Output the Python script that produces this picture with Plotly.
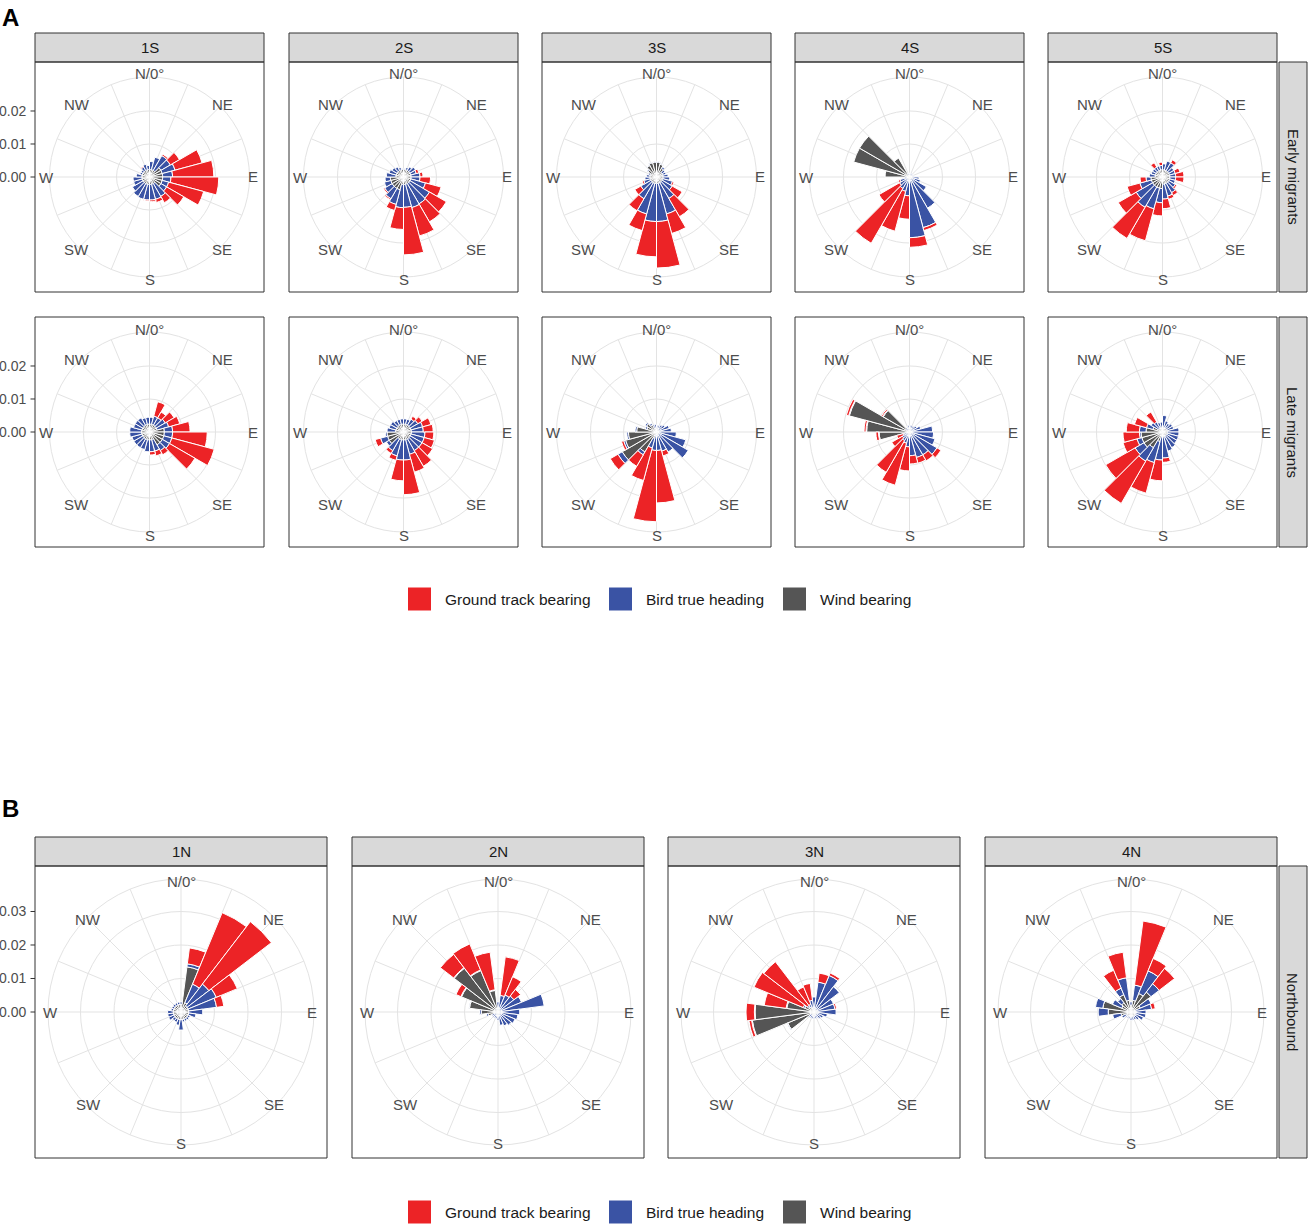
import plotly.graph_objects as go
import math

W, H = 1308, 1227

# ---------------- data (density per degree, values in units of 0.001) ----------------
THETA_A = [7.5, 22.5, 37.5, 52.5, 67.5, 82.5, 97.5, 112.5, 127.5, 142.5, 157.5, 172.5,
           187.5, 202.5, 217.5, 232.5, 247.5, 262.5, 277.5, 292.5, 307.5, 322.5, 337.5, 352.5]
THETA_B = [0, 15, 30, 45, 60, 75, 90, 105, 120, 135, 150, 165,
           180, 195, 210, 225, 240, 255, 270, 285, 300, 315, 330, 345]
BIN_WIDTH = 15
COMPASS_DEG = [0, 45, 90, 135, 180, 225, 270, 315]
COMPASS_TXT = ["N/0°", "NE", "E", "SE", "S", "SW", "W", "NW"]
SPOKES = [0, 22.5, 45, 67.5, 90, 112.5, 135, 157.5, 180, 202.5, 225, 247.5,
          270, 292.5, 315, 337.5]
SERIES = ["Ground track bearing", "Bird true heading", "Wind bearing"]
TICKS_A = [0.00, 0.01, 0.02]
TICKS_B = [0.00, 0.01, 0.02, 0.03]
COLS_A = ["1S", "2S", "3S", "4S", "5S"]
ROWS_A = ["Early migrants", "Late migrants"]
COLS_B = ["1N", "2N", "3N", "4N"]
ROW_B = "Northbound"

# Early migrants
W1S_E = [2.3, 2.3, 2.3, 4.0, 4.0, 4.0, 4.0, 4.0, 4.0, 2.3, 2.3, 2.3, 2.3, 2.3, 2.3, 2.3, 2.3, 2.3, 2.3, 2.3, 2.3, 2.3, 2.3, 2.3]
H1S_E = [2.4, 3.9, 5.2, 3.3, 4.0, 3.0, 2.5, 2.0, 2.0, 4.5, 4.7, 4.7, 4.7, 4.7, 4.5, 3.7, 2.7, 2.7, 1.7, 0.7, 0.7, 1.2, 1.7, 1.2]
G1S_E = [0, 0, 0.5, 3.2, 8.5, 12.5, 14.5, 11.0, 6.0, 2.2, 1.0, 0.5, 0.3, 0, 0, 0, 0, 0, 0, 0, 0, 0.3, 0, 0]

W2S_E = [2.3, 2.3, 2.3, 2.3, 2.3, 2.3, 2.3, 2.3, 2.3, 2.3, 2.3, 2.3, 2.3, 4.0, 4.0, 4.0, 4.0, 4.0, 2.3, 2.3, 2.3, 2.3, 2.3, 2.3]
H2S_E = [0.2, 0.7, 1.2, 1.9, 1.7, 2.7, 2.7, 4.6, 6.8, 7.1, 7.3, 6.9, 7.0, 4.6, 3.6, 2.6, 2.0, 1.6, 2.9, 2.2, 1.7, 1.2, 0.7, 0.2]
G2S_E = [0, 0, 0, 0, 0.8, 0.9, 3.2, 4.9, 5.9, 6.3, 8.9, 14.4, 6.6, 1.9, 0.4, 0.4, 0, 0, 0, 0, 0, 0, 0, 0]

W3S_E = [4.5, 4.0, 3.0, 2.0, 2.0, 2.0, 2.0, 2.0, 2.0, 2.0, 2.0, 2.0, 2.0, 2.0, 2.0, 2.0, 2.0, 2.0, 2.0, 2.0, 3.0, 4.0, 4.5, 4.5]
H3S_E = [0.2, 0.2, 0.5, 1.0, 1.0, 1.5, 2.0, 3.0, 3.5, 5.5, 9.6, 11.5, 11.5, 9.6, 5.6, 3.5, 2.0, 1.5, 1.0, 0.5, 0.3, 0.2, 0.2, 0.2]
G3S_E = [0, 0, 0, 0, 0, 0, 0, 0.5, 3.5, 6.4, 6.1, 14.1, 10.7, 5.2, 4.2, 2.1, 0.5, 0, 0, 0, 0, 0, 0, 0]

W4S_E = [0.9, 0.9, 0.9, 0.9, 0.9, 0.9, 0.9, 0.9, 0.9, 0.9, 0.9, 0.9, 0.9, 0.9, 0.9, 0.9, 0.9, 0.9, 7.4, 17.5, 17.5, 6.6, 0.9, 0.9]
H4S_E = [0.3, 0.3, 0.3, 0.3, 0.3, 0.5, 2.0, 2.5, 5.0, 10.0, 15.0, 17.5, 4.8, 3.6, 3.1, 2.6, 2.1, 0.5, 0, 0, 0, 0, 0.3, 0.3]
G4S_E = [0, 0, 0, 0, 0, 0, 0, 0, 0, 0, 0.9, 2.9, 7.1, 12.5, 19.2, 7.2, 0.5, 0, 0, 0, 0, 0, 0, 0]

W5S_E = [2.2, 2.2, 2.2, 2.2, 2.2, 2.2, 2.2, 2.2, 2.2, 2.2, 2.2, 2.2, 3.5, 3.5, 3.5, 3.5, 3.5, 3.5, 2.2, 2.2, 2.2, 2.2, 2.2, 2.2]
H5S_E = [1.8, 2.8, 2.8, 1.8, 1.8, 1.8, 1.8, 1.8, 2.3, 3.3, 3.8, 4.5, 4.3, 6.5, 7.1, 5.7, 3.6, 1.5, 1.8, 1.3, 1.3, 1.3, 1.3, 1.3]
G5S_E = [0, 0, 1.0, 0, 1.5, 2.5, 2.5, 0, 0.5, 1.0, 1.0, 2.9, 4.0, 10.0, 10.9, 6.3, 4.0, 1.8, 0, 0, 0, 1.5, 0, 1.0]

# Late migrants
W1S_L = [2.4, 2.4, 2.4, 2.4, 2.4, 4.5, 4.5, 4.5, 4.5, 4.5, 2.4, 2.4, 2.4, 2.4, 2.4, 2.4, 2.4, 2.4, 2.4, 2.4, 2.4, 2.4, 2.4, 2.4]
H1S_L = [2.1, 2.6, 2.6, 3.1, 3.6, 2.5, 2.5, 2.5, 2.5, 2.0, 3.6, 3.6, 3.6, 3.1, 3.1, 3.1, 3.1, 3.6, 3.6, 2.6, 2.6, 2.6, 2.1, 2.1]
G1S_L = [0, 4.5, 2.0, 3.1, 3.5, 5.3, 10.5, 13.3, 8.9, 1.5, 1.5, 1.0, 0, 0, 0, 0, 0, 0, 0, 0, 0, 0, 0, 0]

W2S_L = [2.4, 2.4, 2.4, 2.4, 2.4, 2.4, 2.4, 2.4, 2.4, 2.4, 2.4, 2.4, 2.4, 2.4, 2.4, 5.0, 5.0, 5.0, 2.4, 2.4, 2.4, 2.4, 2.4, 2.4]
H2S_L = [1.6, 1.6, 2.1, 2.6, 3.6, 3.6, 4.1, 4.1, 4.1, 4.1, 4.6, 6.1, 6.1, 5.1, 4.1, 1.0, 2.2, 0.5, 2.6, 2.1, 2.1, 1.6, 1.6, 1.6]
G2S_L = [0, 0, 1.0, 1.5, 2.6, 3.0, 2.7, 3.2, 3.7, 5.5, 5.6, 10.5, 6.3, 1.4, 1.0, 0, 1.7, 0, 0, 0, 0, 0, 0, 0]

W3S_L = [1.0, 1.0, 1.0, 1.0, 1.0, 1.0, 1.0, 1.0, 1.0, 1.0, 1.0, 1.0, 1.0, 2.0, 7.0, 12.0, 9.7, 8.5, 6.0, 3.0, 3.5, 2.5, 1.3, 1.3]
H3S_L = [1.0, 1.0, 1.5, 2.0, 3.0, 3.5, 5.0, 8.2, 10.1, 6.0, 5.0, 4.6, 4.6, 3.0, 1.0, 1.5, 0.6, 0.5, 0.5, 0.5, 0.5, 0.5, 1.0, 1.0]
G3S_L = [0, 0, 0, 0, 0, 0, 0, 0, 0, 0, 1.5, 15.9, 21.6, 10.2, 4.0, 2.7, 0.7, 0, 0, 0, 0, 0, 0, 0]

W4S_L = [0.8, 0.8, 0.8, 0.8, 0.8, 0.8, 0.8, 0.8, 0.8, 0.8, 0.8, 0.8, 0.8, 0.8, 0.8, 0.8, 0.8, 9.2, 13.0, 18.9, 9.2, 0.8, 0.8, 0.8]
H4S_L = [1.2, 1.2, 1.2, 1.7, 2.7, 6.2, 6.5, 7.2, 8.8, 7.2, 7.2, 6.4, 3.7, 2.7, 2.2, 1.7, 1.2, 0.2, 0.2, 0.2, 0.2, 0.7, 0.7, 1.2]
G4S_L = [0, 0, 0, 0, 0, 0, 0, 0, 1.4, 2.1, 1.8, 2.5, 7.3, 13.2, 11.1, 3.7, 2.0, 0.8, 0.6, 0.7, 0.4, 0, 0, 0]

W5S_L = [1.5, 1.5, 1.5, 1.5, 1.5, 1.5, 1.5, 1.5, 1.5, 1.5, 1.5, 1.5, 1.5, 3.0, 5.5, 6.5, 6.5, 6.5, 5.0, 3.0, 1.5, 1.5, 1.5, 1.5]
H5S_L = [3.5, 2.0, 1.5, 2.0, 2.0, 3.5, 3.5, 3.5, 3.5, 4.0, 4.5, 6.4, 7.0, 6.6, 4.7, 3.1, 1.5, 0.5, 2.0, 2.0, 2.5, 2.0, 1.5, 1.5]
G5S_L = [0, 0, 0, 0, 0, 0, 0, 0, 0, 0, 0, 1.3, 6.3, 9.6, 14.8, 10.3, 4.4, 5.0, 4.0, 3.8, 0, 3.5, 0, 0]

# Northbound
W1N = [2.3, 13.6, 3.0, 2.3, 2.3, 2.3, 2.3, 2.3, 2.3, 2.3, 2.3, 2.3, 2.3, 2.3, 2.3, 2.3, 2.3, 2.3, 2.3, 2.3, 2.3, 2.3, 2.3, 2.3]
H1N = [0.7, 0.9, 6.0, 8.2, 9.1, 8.4, 4.2, 2.2, 0.7, 0.7, 0.7, 0.7, 3.1, 1.7, 1.0, 1.0, 1.7, 1.7, 1.7, 0.7, 0.7, 0.7, 0.7, 0.7]
G1N = [0, 4.8, 23.1, 23.5, 6.8, 2.2, 0, 0, 0, 0, 0, 0, 0, 0, 0, 0, 0, 0, 0, 0, 0, 0, 0, 0]

W2N = [0.8, 0.8, 0.8, 0.8, 0.8, 0.8, 0.8, 0.8, 0.8, 0.8, 0.8, 0.8, 0.8, 0.8, 0.8, 0.8, 0.8, 3.0, 5.0, 8.6, 11.8, 16.5, 13.4, 6.5]
H2N = [2.2, 4.2, 4.7, 5.2, 6.8, 13.1, 5.7, 5.2, 4.7, 4.2, 3.7, 3.2, 1.7, 1.2, 1.2, 1.2, 1.2, 0.5, 0.5, 0.2, 0.2, 0.2, 0.2, 0.2]
G2N = [0, 11.6, 5.9, 2.5, 0, 0, 0, 0, 0, 0, 0, 0, 0, 0, 0, 0, 0, 0, 0, 0, 1.6, 5.0, 8.4, 11.3]

W3N = [1.0, 1.0, 1.0, 1.0, 1.0, 1.0, 1.0, 1.0, 1.0, 1.0, 1.0, 1.0, 1.0, 1.0, 1.0, 1.0, 8.5, 18.6, 17.6, 8.2, 3.0, 2.0, 1.5, 1.5]
H3N = [3.5, 8.0, 10.8, 8.5, 5.3, 5.3, 5.6, 3.0, 2.0, 1.5, 1.0, 1.0, 1.0, 1.0, 1.0, 1.0, 0.2, 0.2, 0.2, 0.2, 0.5, 0.5, 1.0, 2.0]
G3N = [0, 2.7, 0.8, 0, 0, 0.5, 0, 0, 0, 0, 0, 0, 0, 0, 0, 0, 0, 0.8, 2.5, 6.6, 15.9, 16.4, 5.6, 5.1]

W4N = [2.0, 3.5, 6.0, 7.5, 3.0, 1.5, 1.5, 1.5, 1.5, 1.5, 1.5, 1.5, 1.5, 1.5, 1.5, 1.5, 1.5, 3.0, 6.8, 8.5, 3.0, 3.5, 5.6, 3.5]
H4N = [1.0, 4.6, 7.3, 3.1, 3.5, 4.7, 3.0, 3.0, 2.5, 1.5, 1.0, 1.0, 1.0, 0.5, 0.5, 0.5, 1.5, 2.5, 3.0, 2.2, 3.0, 1.5, 2.1, 6.8]
G4N = [0, 19.3, 4.0, 5.8, 0, 1.1, 0, 0, 0, 0, 0, 0, 0, 0, 0, 0, 0, 0, 0, 0, 0, 0, 5.8, 7.7]

UNIT = 0.001

# ---------------- styling / geometry ----------------
C_GROUND = "#EC2326"
C_HEAD = "#3A53A4"
C_WIND = "#555555"
COLORS = [C_GROUND, C_HEAD, C_WIND]
GRID = "#e3e3e3"
BORDER = "#333333"
STRIP_FILL = "#d9d9d9"
FONT = "Liberation Sans, Arial, Helvetica, sans-serif"
TXT = "#1a1a1a"
AXT = "#4d4d4d"

A_X0 = [35, 289, 542, 795, 1048]
A_PW = 229
A_ROW_Y0 = [62, 317]
A_PH = 230
A_STRIP_Y = (33, 62)
A_R = 100          # circle radius in px
A_RMAX = 0.0303    # radial value at circle
A_LAB_R = 103

B_X0 = [35, 352, 668, 985]
B_PW = 292
B_Y0 = 866
B_PH = 292
B_STRIP_Y = (837, 866)
B_R = 133
B_RMAX = 0.0397
B_LAB_R = 131

RSTRIP_X = (1279, 1307)


def px(x):
    return x / W


def py(y):
    return 1 - y / H


fig = go.Figure()
shapes = []
annotations = []
layout_polars = {}

panels = []
A_DATA = [
    [(W1S_E, H1S_E, G1S_E), (W2S_E, H2S_E, G2S_E), (W3S_E, H3S_E, G3S_E), (W4S_E, H4S_E, G4S_E), (W5S_E, H5S_E, G5S_E)],
    [(W1S_L, H1S_L, G1S_L), (W2S_L, H2S_L, G2S_L), (W3S_L, H3S_L, G3S_L), (W4S_L, H4S_L, G4S_L), (W5S_L, H5S_L, G5S_L)],
]
for ri in range(2):
    for ci in range(5):
        panels.append(dict(x0=A_X0[ci], y0=A_ROW_Y0[ri], pw=A_PW, ph=A_PH, R=A_R, rmax=A_RMAX,
                           lab_r=A_LAB_R, theta=THETA_A, data=A_DATA[ri][ci],
                           ticks=TICKS_A if ci == 0 else None))
B_DATA = [(W1N, H1N, G1N), (W2N, H2N, G2N), (W3N, H3N, G3N), (W4N, H4N, G4N)]
for ci in range(4):
    panels.append(dict(x0=B_X0[ci], y0=B_Y0, pw=B_PW, ph=B_PH, R=B_R, rmax=B_RMAX,
                       lab_r=B_LAB_R, theta=THETA_B, data=B_DATA[ci],
                       ticks=TICKS_B if ci == 0 else None))


def text_ann(x, y, text, size, color, xanchor="center", yanchor="middle", angle=0):
    return dict(x=px(x), y=py(y), xref="paper", yref="paper", text=text, showarrow=False,
                xanchor=xanchor, yanchor=yanchor, textangle=angle,
                font=dict(family=FONT, size=size, color=color))


for i, p in enumerate(panels):
    pid = "polar" if i == 0 else f"polar{i + 1}"
    cx = p["x0"] + p["pw"] / 2
    cy = p["y0"] + p["ph"] / 2
    R = p["R"]
    wind, head, ground = p["data"]
    for vals, col, name in [(wind, C_WIND, SERIES[2]), (head, C_HEAD, SERIES[1]), (ground, C_GROUND, SERIES[0])]:
        fig.add_trace(go.Barpolar(
            r=[v * UNIT for v in vals], theta=p["theta"], width=BIN_WIDTH,
            marker=dict(color=col, line=dict(color="white", width=1)),
            name=name, showlegend=False, subplot=pid, hoverinfo="skip"))
    gridvals = [0.01, 0.02, 0.03]
    layout_polars[pid] = dict(
        domain=dict(x=[px(cx - R), px(cx + R)], y=[py(cy + R), py(cy - R)]),
        bgcolor="white", barmode="stack", hole=0,
        radialaxis=dict(range=[0, p["rmax"]], tickvals=[g for g in gridvals if g < p["rmax"]],
                        showticklabels=False, ticks="", showline=False,
                        gridcolor=GRID, gridwidth=1),
        angularaxis=dict(rotation=90, direction="clockwise", tickvals=SPOKES,
                         showticklabels=False, ticks="", showline=True,
                         linecolor=GRID, linewidth=1, gridcolor=GRID, gridwidth=1),
    )
    # panel border
    shapes.append(dict(type="rect", xref="paper", yref="paper",
                       x0=px(p["x0"]), x1=px(p["x0"] + p["pw"]),
                       y0=py(p["y0"] + p["ph"]), y1=py(p["y0"]),
                       line=dict(color=BORDER, width=1), fillcolor="rgba(0,0,0,0)"))
    # compass labels
    for deg, txt in zip(COMPASS_DEG, COMPASS_TXT):
        a = math.radians(deg)
        lx = cx + p["lab_r"] * math.sin(a)
        ly = cy - p["lab_r"] * math.cos(a)
        annotations.append(text_ann(lx, ly, txt, 15, AXT))
    # radial tick labels
    if p["ticks"]:
        scale = R / p["rmax"]
        for t in p["ticks"]:
            ty = cy - t * scale
            annotations.append(text_ann(28, ty, f"{t:.2f}", 14, AXT, xanchor="right"))
            shapes.append(dict(type="line", xref="paper", yref="paper",
                               x0=px(30.5), x1=px(35), y0=py(ty), y1=py(ty),
                               line=dict(color=BORDER, width=1)))

# strips (top)
for ci, lab in enumerate(COLS_A):
    x0 = A_X0[ci]
    shapes.append(dict(type="rect", xref="paper", yref="paper", x0=px(x0), x1=px(x0 + A_PW),
                       y0=py(A_STRIP_Y[1]), y1=py(A_STRIP_Y[0]),
                       line=dict(color=BORDER, width=1), fillcolor=STRIP_FILL, layer="below"))
    annotations.append(text_ann(x0 + A_PW / 2, sum(A_STRIP_Y) / 2, lab, 15, TXT))
for ci, lab in enumerate(COLS_B):
    x0 = B_X0[ci]
    shapes.append(dict(type="rect", xref="paper", yref="paper", x0=px(x0), x1=px(x0 + B_PW),
                       y0=py(B_STRIP_Y[1]), y1=py(B_STRIP_Y[0]),
                       line=dict(color=BORDER, width=1), fillcolor=STRIP_FILL, layer="below"))
    annotations.append(text_ann(x0 + B_PW / 2, sum(B_STRIP_Y) / 2, lab, 15, TXT))
# strips (right)
right_strips = [(A_ROW_Y0[0], A_PH, ROWS_A[0]), (A_ROW_Y0[1], A_PH, ROWS_A[1]), (B_Y0, B_PH, ROW_B)]
for y0, h, lab in right_strips:
    shapes.append(dict(type="rect", xref="paper", yref="paper", x0=px(RSTRIP_X[0]), x1=px(RSTRIP_X[1]),
                       y0=py(y0 + h), y1=py(y0), line=dict(color=BORDER, width=1),
                       fillcolor=STRIP_FILL, layer="below"))
    annotations.append(text_ann(sum(RSTRIP_X) / 2, y0 + h / 2, lab, 15, TXT, angle=90))

# legends (drawn twice, as in the figure)
LEG_KEYS_X = [408, 609, 783]
LEG_Y = [599, 1212]
KEY = 23
for ly in LEG_Y:
    for kx, name, col in zip(LEG_KEYS_X, SERIES, COLORS):
        shapes.append(dict(type="rect", xref="paper", yref="paper", x0=px(kx), x1=px(kx + KEY),
                           y0=py(ly + KEY / 2), y1=py(ly - KEY / 2),
                           line=dict(width=0), fillcolor=col))
        annotations.append(text_ann(kx + KEY + 12, ly, name, 15.5, TXT, xanchor="left"))

# section letters
for letter, (lx, ly) in zip(["A", "B"], [(0, 17), (0, 808)]):
    annotations.append(text_ann(lx, ly, f"<b>{letter}</b>", 24, "#000000", xanchor="left"))

fig.update_layout(
    width=W, height=H, margin=dict(l=0, r=0, t=0, b=0),
    paper_bgcolor="white", plot_bgcolor="white", showlegend=False,
    shapes=shapes, annotations=annotations, **layout_polars,
)

fig.write_html("out.html", config={"displayModeBar": False},
               post_script="document.body.style.margin='0px';")
